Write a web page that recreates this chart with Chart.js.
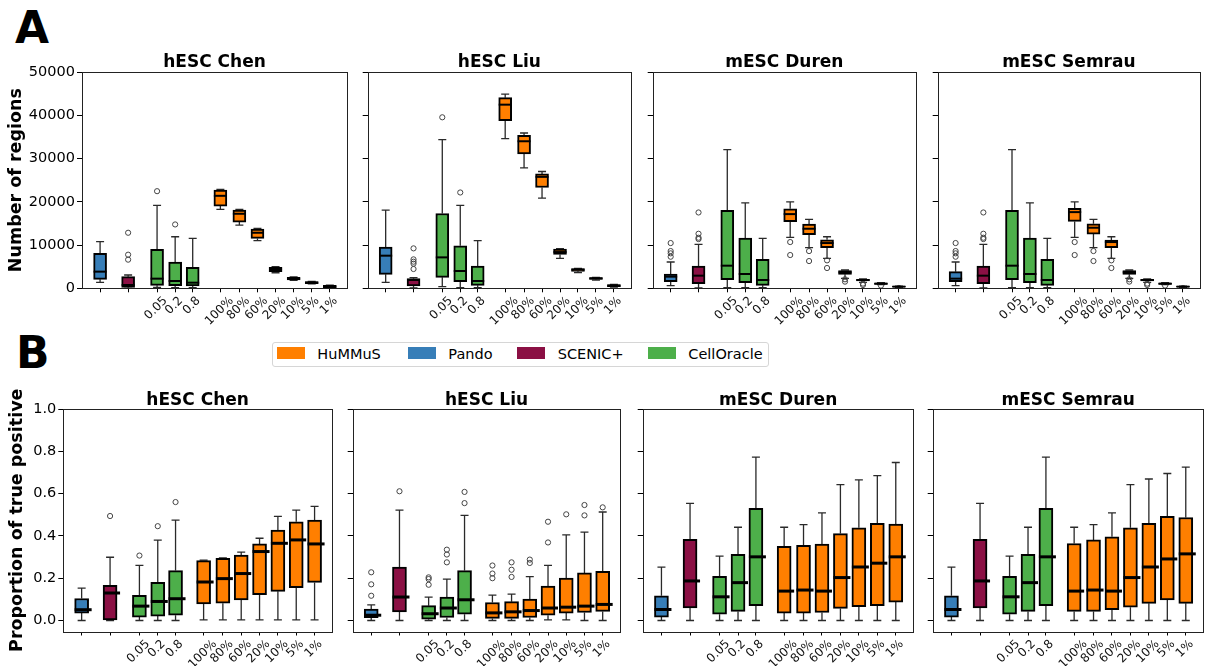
<!DOCTYPE html>
<html><head><meta charset="utf-8">
<script src="https://cdn.jsdelivr.net/npm/chart.js@4.4.1/dist/chart.umd.min.js"></script>
<style>
html,body{margin:0;padding:0;background:#fff;}
body{width:1205px;height:666px;position:relative;overflow:hidden;font-family:'DejaVu Sans',sans-serif;}
canvas{position:absolute;}
.letter{position:absolute;font-family:'DejaVu Sans';font-weight:bold;font-size:44px;line-height:44px;color:#000;}
#legend{position:absolute;left:271.5px;top:341.5px;width:497px;height:25px;border:1px solid #d6d6d6;border-radius:3px;box-sizing:border-box;background:#fff;}
.lp{position:absolute;width:28px;height:12px;}
.lt{position:absolute;font-family:'DejaVu Sans';font-size:14.5px;line-height:14.5px;color:#000;white-space:nowrap;}
</style></head>
<body>
<div class="letter" style="left:15px;top:6px;">A</div>
<div class="letter" style="left:16px;top:331px;">B</div>
<div id="legend"></div>
<script>
// ---------------- data ----------------
const categories = ['Pando','SCENIC+','0.05','0.2','0.8','100%','80%','60%','20%','10%','5%','1%'];
const tickLabels = ['','','0.05','0.2','0.8','100%','80%','60%','20%','10%','5%','1%'];
const categoryMethod = ['Pando','SCENIC+','CellOracle','CellOracle','CellOracle','HuMMuS','HuMMuS','HuMMuS','HuMMuS','HuMMuS','HuMMuS','HuMMuS'];
const methods = ['HuMMuS','Pando','SCENIC+','CellOracle'];
const methodColors = ['#ff7f00','#377eb8','#8b1044','#4daf4a'];
const datasetNames = ['hESC Chen','hESC Liu','mESC Duren','mESC Semrau'];
const regionTicks = [0,10000,20000,30000,40000,50000];
const tpTicks = [0,0.2,0.4,0.6,0.8,1.0];

// [whisker low, Q1, median, Q3, whisker high] per category
const chenRegions = [[1380,2080,3850,8080,10770],[0,230,770,2690,3080],[230,690,2230,9000,19150],[150,620,1690,6080,11920],[150,540,1300,4850,11530],[18230,19000,21380,22690,22840],[14610,15300,17230,18070,18230],[11000,11530,12840,13690,13840],[3600,3850,4380,4850,5000],[1850,1920,2230,2540,2620],[1000,1080,1300,1540,1600],[100,150,380,690,750]];
const chenRegionsOut = [[1,12840],[1,7770],[1,6620],[2,22450],[3,14760]];
const liuRegions = [[1380,3230,7540,9540,18070],[80,540,1920,2230,2460],[380,2540,7150,17300,34380],[150,1540,4000,9840,19150],[150,690,1690,5150,11000],[34600,38760,42450,44060,44900],[27840,31070,33990,35370,35900],[20840,23300,25760,26450,27000],[6920,7840,8380,9070,9150],[3610,3920,4300,4540,4620],[1900,2080,2300,2460,2540],[300,380,600,850,900]];
const liuRegionsOut = [[1,9230],[1,6690],[1,6150],[1,5690],[1,4460],[2,39530],[3,22150]];
const durenRegions = [[620,1540,2690,3300,6080],[80,1080,2920,5150,10150],[150,2000,5230,18000,32070],[150,1300,3300,11610,19760],[150,690,1920,6690,11530],[11770,15380,17150,18380,20000],[9380,12380,13770,14840,15920],[6920,9380,10460,11230,11920],[2300,3230,3690,4080,4230],[1380,1690,1920,2080,2150],[850,920,1080,1230,1300],[150,300,380,460,500]];
const durenRegionsOut = [[0,10460],[0,8610],[0,8080],[0,7300],[1,17530],[1,12610],[1,11690],[1,11380],[5,10690],[5,7690],[6,8610],[6,6300],[7,6460],[7,4690],[8,2080],[8,1540],[9,1080],[9,770],[10,620],[11,80]];
const semrauRegions = [[620,1540,2230,3850,6080],[80,1080,2920,5150,10150],[150,2000,5230,18000,32070],[150,1300,3300,11610,19760],[150,690,1920,6690,11530],[11770,15460,17610,18460,20000],[9380,12540,14000,14920,15920],[6920,9380,10690,11150,11920],[2300,3230,3690,4080,4230],[1380,1690,1920,2080,2150],[850,920,1080,1230,1300],[150,300,380,460,500]];
const semrauRegionsOut = [[0,10460],[0,8610],[0,8080],[0,7300],[1,17530],[1,12610],[1,11690],[1,11380],[5,10690],[5,7690],[6,8610],[6,6300],[7,6460],[7,4690],[8,2080],[8,1540],[9,1080],[9,770],[10,620],[11,80]];

const chenTP = [[0,0.035,0.051,0.104,0.153],[0,0.003,0.13,0.166,0.299],[0,0.016,0.068,0.119,0.261],[0,0.021,0.09,0.18,0.38],[0,0.025,0.103,0.236,0.475],[0.003,0.078,0.182,0.283,0.285],[0.003,0.082,0.198,0.294,0.296],[0.003,0.097,0.222,0.309,0.323],[0.003,0.122,0.326,0.362,0.389],[0.003,0.138,0.365,0.427,0.492],[0.003,0.155,0.381,0.467,0.522],[0.003,0.18,0.362,0.475,0.54]];
const chenTPOut = [[1,0.494],[2,0.307],[3,0.446],[4,0.56]];
const liuTP = [[0,0.013,0.025,0.054,0.074],[0,0.04,0.111,0.252,0.522],[0,0.006,0.032,0.07,0.111],[0,0.014,0.059,0.111,0.196],[0,0.03,0.098,0.236,0.497],[0,0.01,0.036,0.085,0.12],[0,0.01,0.041,0.089,0.125],[0,0.014,0.047,0.101,0.207],[0.003,0.025,0.059,0.163,0.261],[0.003,0.035,0.063,0.2,0.405],[0,0.038,0.068,0.225,0.418],[0,0.043,0.076,0.233,0.513]];
const liuTPOut = [[0,0.228],[0,0.171],[0,0.117],[1,0.611],[2,0.204],[2,0.196],[2,0.169],[3,0.335],[3,0.312],[3,0.275],[4,0.608],[4,0.555],[5,0.26],[5,0.222],[5,0.2],[6,0.275],[6,0.24],[6,0.206],[7,0.288],[7,0.272],[8,0.467],[8,0.369],[9,0.502],[10,0.546],[10,0.497],[11,0.535]];
const durenTP = [[0,0.016,0.052,0.117,0.252],[0,0.059,0.187,0.384,0.554],[0,0.03,0.112,0.209,0.304],[0,0.043,0.179,0.313,0.441],[0,0.07,0.301,0.53,0.772],[0,0.035,0.139,0.351,0.441],[0,0.035,0.144,0.356,0.453],[0,0.038,0.139,0.361,0.509],[0,0.057,0.203,0.411,0.642],[0,0.065,0.253,0.438,0.665],[0,0.07,0.271,0.46,0.685],[0,0.087,0.301,0.456,0.747]];
const durenTPOut = [];
const semrauTP = [[0,0.016,0.052,0.117,0.252],[0,0.059,0.187,0.384,0.554],[0,0.03,0.112,0.209,0.304],[0,0.043,0.179,0.313,0.441],[0,0.07,0.301,0.53,0.772],[0,0.043,0.139,0.364,0.441],[0,0.043,0.144,0.381,0.453],[0,0.051,0.139,0.396,0.509],[0,0.063,0.203,0.438,0.642],[0,0.081,0.253,0.46,0.669],[0,0.097,0.291,0.492,0.695],[0,0.081,0.315,0.487,0.725]];
const semrauTPOut = [];

// ---------------- layout ----------------
const xPos = [1, 2.55, 4.15, 5.15, 6.12, 7.65, 8.7, 9.7, 10.7, 11.7, 12.7, 13.7];
const xMax = 14.65;
const FONT = "'DejaVu Sans'";

function colorOf(m){ return methodColors[methods.indexOf(m)]; }

// legend
(function(){
  const lg = document.getElementById('legend');
  const patchX = [277.3, 407.7, 517.3, 648.3];
  const textX = [317.3, 448.3, 557.7, 688.3];
  methods.forEach((m,i)=>{
    const p = document.createElement('div'); p.className='lp';
    p.style.left=(patchX[i]-272.5)+'px'; p.style.top=(347.3-342.5)+'px'; p.style.background=colorOf(m);
    lg.appendChild(p);
    const t = document.createElement('div'); t.className='lt';
    t.style.left=(textX[i]-272.5)+'px'; t.style.top=(346.8-342.5)+'px'; t.textContent=m;
    lg.appendChild(t);
  });
})();

function makePanel(canvasRect, plot, title, stats, outliers, o){
  const cv = document.createElement('canvas');
  const W = canvasRect[2]-canvasRect[0], H = canvasRect[3]-canvasRect[1];
  cv.width = W; cv.height = H;
  cv.style.left = canvasRect[0]+'px'; cv.style.top = canvasRect[1]+'px';
  cv.style.width = W+'px'; cv.style.height = H+'px';
  document.body.appendChild(cv);
  const yW = (plot[0]-canvasRect[0]) - o.padL;
  const xH = 4;
  const colors = categoryMethod.map(colorOf);
  const boxData = stats.map((s,i)=>({x:xPos[i], y:[s[1], s[3]]}));
  const outData = outliers.map(p=>({x:xPos[p[0]], y:p[1]}));
  const extras = {
    id:'extras',
    beforeDatasetsDraw(chart){
      const ctx=chart.ctx, xs=chart.scales.x, ys=chart.scales.y;
      ctx.save();
      ctx.strokeStyle='#2a2a2a'; ctx.lineWidth=1.3;
      stats.forEach((s,i)=>{
        const x = xs.getPixelForValue(xPos[i]);
        const lo=ys.getPixelForValue(s[0]), q1=ys.getPixelForValue(s[1]), q3=ys.getPixelForValue(s[3]), hi=ys.getPixelForValue(s[4]);
        ctx.beginPath();
        ctx.moveTo(x,q1); ctx.lineTo(x,lo);
        ctx.moveTo(x,q3); ctx.lineTo(x,hi);
        ctx.moveTo(x-o.capW/2,lo); ctx.lineTo(x+o.capW/2,lo);
        ctx.moveTo(x-o.capW/2,hi); ctx.lineTo(x+o.capW/2,hi);
        ctx.stroke();
      });
      ctx.restore();
    },
    afterDatasetsDraw(chart){
      const ctx=chart.ctx, xs=chart.scales.x, ys=chart.scales.y, ca=chart.chartArea;
      ctx.save();
      ctx.strokeStyle='#000'; ctx.lineWidth=o.medLW;
      stats.forEach((s,i)=>{
        const x = xs.getPixelForValue(xPos[i]);
        const m = ys.getPixelForValue(s[2]);
        ctx.beginPath();
        ctx.moveTo(x-o.barW/2, m); ctx.lineTo(x+o.barW/2+o.medExt, m);
        ctx.stroke();
      });
      // spines
      ctx.strokeStyle='#222'; ctx.lineWidth=1;
      ctx.strokeRect(Math.round(ca.left)+0.5, Math.round(ca.top)+0.5, Math.round(ca.right)-Math.round(ca.left), Math.round(ca.bottom)-Math.round(ca.top));
      ctx.restore();
    },
    afterDraw(chart){
      const ctx=chart.ctx, xs=chart.scales.x, ca=chart.chartArea;
      ctx.save();
      // panel title
      ctx.fillStyle='#000';
      ctx.font='bold 17px '+FONT;
      ctx.textAlign='center'; ctx.textBaseline='alphabetic';
      ctx.fillText(title, (ca.left+ca.right)/2, ca.top-o.titleGap);
      // rotated x tick labels, centred under their ticks
      const fs = 12;
      ctx.font = fs+'px '+FONT;
      ctx.fillStyle='#111';
      xs.ticks.forEach((t,i)=>{
        const lab = tickLabels[i];
        if(!lab) return;
        const x = xs.getPixelForTick(i);
        const w = ctx.measureText(lab).width;
        const ext = (w + fs*1.1)*Math.SQRT1_2;
        ctx.save();
        ctx.translate(x - 1, ca.bottom + xH + 2 + ext/2);
        ctx.rotate(-Math.PI/4);
        ctx.textAlign='center'; ctx.textBaseline='middle';
        ctx.fillText(lab,0,0);
        ctx.restore();
      });
      ctx.restore();
    }
  };
  new Chart(cv, {
    type:'bar',
    data:{datasets:[
      {type:'bar', data:boxData, backgroundColor:colors, borderColor:'#000', borderWidth:2, borderSkipped:false, barThickness:o.barW, order:2},
      {type:'scatter', data:outData, pointStyle:'circle', pointRadius:2.6, radius:2.6, pointBorderColor:'#444', borderColor:'#444', pointBackgroundColor:'rgba(0,0,0,0)', backgroundColor:'rgba(0,0,0,0)', pointBorderWidth:1, order:1}
    ]},
    options:{
      responsive:false, animation:false, events:[], devicePixelRatio:1,
      layout:{padding:{left:o.padL, top:plot[1]-canvasRect[1], right:canvasRect[2]-plot[2], bottom:(canvasRect[3]-plot[3])-xH}},
      plugins:{legend:{display:false}, tooltip:{enabled:false}, title:{display:false}},
      scales:{
        x:{type:'linear', min:0, max:xMax, offset:false,
           afterBuildTicks:s=>{ s.ticks = xPos.map(v=>({value:v})); },
           afterFit:s=>{ s.height = xH; },
           ticks:{display:false},
           grid:{display:true, drawOnChartArea:false, drawTicks:true, tickLength:xH, color:'#000', offset:false},
           border:{display:false}},
        y:{type:'linear', min:o.yMin, max:o.yMax, beginAtZero:false,
           afterBuildTicks:s=>{ s.ticks = o.yTicks.map(v=>({value:v})); },
           afterFit:s=>{ s.width = yW; },
           ticks:{display:o.showY, padding:2, color:'#000', font:{family:FONT, size:14.5}, callback:o.fmt},
           grid:{display:true, drawOnChartArea:false, drawTicks:true, tickLength:5, color:'#000'},
           border:{display:false},
           title:{display:!!o.yTitle, text:o.yTitle||'', color:'#000', padding:{top:0,bottom:0}, font:{family:FONT, size:17.5, weight:'bold'}}}
      }
    },
    plugins:[extras]
  });
}

const fmtRegions = v => String(v);
const fmtTP = v => v.toFixed(1);
const topOpts = {yMin:0, yMax:50000, yTicks:regionTicks, fmt:fmtRegions, barW:13, capW:8, medLW:2, medExt:0, titleGap:5};
const botOpts = {yMin:-0.052, yMax:1.0, yTicks:tpTicks, fmt:fmtTP, barW:14, capW:8, medLW:3, medExt:3, titleGap:4};

const topStats = [chenRegions, liuRegions, durenRegions, semrauRegions];
const topOut = [chenRegionsOut, liuRegionsOut, durenRegionsOut, semrauRegionsOut];
const botStats = [chenTP, liuTP, durenTP, semrauTP];
const botOut = [chenTPOut, liuTPOut, durenTPOut, semrauTPOut];

const topCanvas = [[0,40,352,335],[352,40,636,335],[637,40,921,335],[922,40,1205,335]];
const topPlot = [[82,72,350,288.3],[367.7,72,634.3,288.3],[652.7,72,919.3,288.3],[937.7,72,1204,288.3]];
const botCanvas = [[0,378,337,666],[338,378,625,666],[628,378,915,666],[918,378,1205,666]];
const botPlot = [[63.3,409,334.3,631.5],[352.7,409,623.3,631.5],[642.7,409,913.3,631.5],[932.7,409,1203.3,631.5]];

for(let p=0;p<4;p++){
  makePanel(topCanvas[p], topPlot[p], datasetNames[p], topStats[p], topOut[p],
    Object.assign({}, topOpts, {showY:p===0, yTitle:p===0?'Number of regions':'', padL:p===0?6.2:15}));
  makePanel(botCanvas[p], botPlot[p], datasetNames[p], botStats[p], botOut[p],
    Object.assign({}, botOpts, {showY:p===0, yTitle:p===0?'Proportion of true positive':'', padL:p===0?6.5:15}));
}
</script>
</body></html>
